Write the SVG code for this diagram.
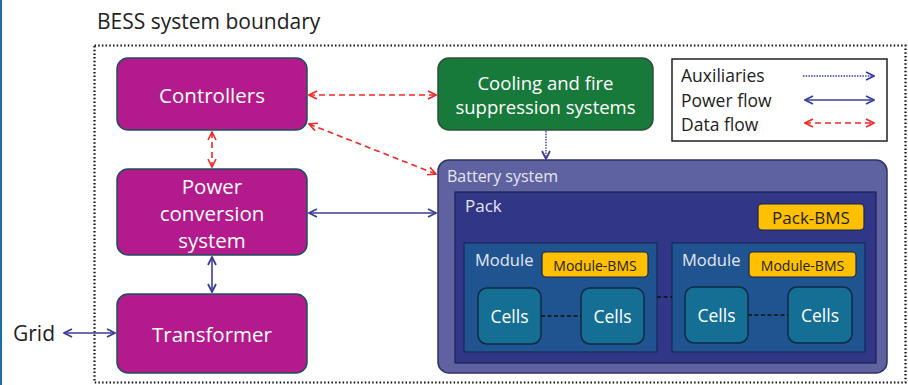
<svg xmlns="http://www.w3.org/2000/svg" width="908" height="385" viewBox="0 0 908 385">
<defs>
<style>
text{font-family:"Open Sans","Liberation Sans",sans-serif}
.mag{fill:#B31B8C;stroke:#1F4E5F;stroke-width:1.5}
.wt{fill:#fff;font-size:20.5px;text-anchor:middle;dominant-baseline:central}
.ct{fill:#fff;font-size:18.5px;text-anchor:middle;dominant-baseline:central}
.cl{fill:#fff;font-size:17.5px;text-anchor:middle;dominant-baseline:central}
.lt{fill:#E6E6F2;font-size:16px;dominant-baseline:central}
.cell{fill:#156F95;stroke:#0E2A44;stroke-width:1.5}
.bms{fill:#FFC000;stroke:#1B2450;stroke-width:1.2}
.bt{fill:#222;font-size:14px;text-anchor:middle;dominant-baseline:central}
.lg{fill:#222;font-size:17.5px;dominant-baseline:central}
.data{stroke:#F02828;stroke-width:1.6;fill:none;stroke-dasharray:6 4}
.pow{stroke:#3A3F96;stroke-width:1.6;fill:none}
.aux{stroke:#3A3F96;stroke-width:1.4;fill:none;stroke-dasharray:1.5 1.2}
.jn{stroke:#111;stroke-width:1.6;stroke-dasharray:4 2.5;fill:none}
</style>
<marker id="mr" viewBox="0 0 10 10" refX="9" refY="5" markerWidth="10" markerHeight="10" markerUnits="userSpaceOnUse" orient="auto-start-reverse"><path d="M1,1 L9,5 L1,9" fill="none" stroke="#F02828" stroke-width="1.6"/></marker>
<marker id="mb" viewBox="0 0 10 10" refX="9" refY="5" markerWidth="10" markerHeight="10" markerUnits="userSpaceOnUse" orient="auto-start-reverse"><path d="M1,1 L9,5 L1,9" fill="none" stroke="#3A3F96" stroke-width="1.8"/></marker>
</defs>
<rect x="0" y="0" width="908" height="385" fill="#fff"/>
<rect x="0" y="0" width="2" height="385" fill="#1C6FA6"/>
<text x="97" y="21" style="font-size:21px" fill="#222" dominant-baseline="central">BESS system boundary</text>
<rect x="94.5" y="45.5" width="811" height="337" fill="none" stroke="#111" stroke-width="2.2" stroke-dasharray="1.5 2.2"/>

<g id="controllers"><rect class="mag" x="117" y="58" width="190" height="72" rx="11"/><text class="wt" x="212" y="95">Controllers</text></g>
<g id="pcs"><rect class="mag" x="117" y="169" width="190" height="86" rx="11"/><text class="wt" x="212" y="186">Power</text><text class="wt" x="212" y="213">conversion</text><text class="wt" x="212" y="240">system</text></g>
<g id="transformer"><rect class="mag" x="117" y="294" width="190" height="79" rx="11"/><text class="wt" x="212" y="334">Transformer</text></g>
<g id="grid"><text x="13" y="333" style="font-size:21px" fill="#222" dominant-baseline="central">Grid</text></g>
<g id="cooling"><rect x="438" y="58" width="215" height="72" rx="11" fill="#17793A" stroke="#2F4F3A" stroke-width="1.5"/><text class="ct" x="545.5" y="82">Cooling and fire</text><text class="ct" x="545.5" y="106">suppression systems</text></g>
<g id="legend"><rect x="672" y="59" width="215" height="82" fill="#fff" stroke="#222" stroke-width="1.5"/>
<text class="lg" x="681" y="75">Auxiliaries</text>
<text class="lg" x="681" y="100">Power flow</text>
<text class="lg" x="681" y="124">Data flow</text>
<line class="aux" x1="803" y1="76" x2="874" y2="76" marker-end="url(#mb)"/>
<line class="pow" x1="805" y1="100" x2="874" y2="100" marker-start="url(#mb)" marker-end="url(#mb)"/>
<line class="data" x1="805" y1="123" x2="874" y2="123" marker-start="url(#mr)" marker-end="url(#mr)"/>
</g>
<g id="battery-system"><rect x="438" y="160" width="449" height="213" rx="11" fill="#5F62A0" stroke="#2E3366" stroke-width="1.5"/><text class="lt" x="447" y="176">Battery system</text></g>
<g id="pack"><rect x="455" y="192" width="421" height="171" fill="#323687" stroke="#1C2050" stroke-width="1.2"/><text class="lt" x="465" y="205" style="font-size:17px">Pack</text></g>
<g id="pack-bms"><rect class="bms" x="758" y="204" width="106" height="26" rx="4"/><text class="bt" x="811" y="217" style="font-size:17px">Pack-BMS</text></g>
<g id="module1"><rect x="464" y="243" width="193" height="109" fill="#1F5491" stroke="#152A55" stroke-width="1.2"/><text class="lt" x="475" y="259" style="font-size:16.5px">Module</text>
<rect class="bms" x="542" y="252" width="106" height="25" rx="4"/><text class="bt" x="595" y="265">Module-BMS</text>
<rect class="cell" x="478" y="288" width="63" height="56" rx="9"/><text class="cl" x="509.5" y="316">Cells</text>
<rect class="cell" x="581" y="288" width="63" height="56" rx="9"/><text class="cl" x="612.5" y="316">Cells</text></g>
<g id="module2"><rect x="672" y="243" width="193" height="109" fill="#1F5491" stroke="#152A55" stroke-width="1.2"/><text class="lt" x="682" y="259" style="font-size:16.5px">Module</text>
<rect class="bms" x="749" y="252" width="107" height="25" rx="4"/><text class="bt" x="802.5" y="265">Module-BMS</text>
<rect class="cell" x="685" y="287" width="63" height="56" rx="9"/><text class="cl" x="716.5" y="315">Cells</text>
<rect class="cell" x="788" y="287" width="64" height="56" rx="9"/><text class="cl" x="820" y="315">Cells</text></g>

<g id="connectors">
<line class="data" x1="309" y1="95" x2="436" y2="95" marker-start="url(#mr)" marker-end="url(#mr)"/>
<line class="data" x1="309" y1="124" x2="436" y2="174" marker-start="url(#mr)" marker-end="url(#mr)"/>
<line class="data" x1="212" y1="132" x2="212" y2="167" marker-start="url(#mr)" marker-end="url(#mr)"/>
<line class="pow" x1="309" y1="213" x2="436" y2="213" marker-start="url(#mb)" marker-end="url(#mb)"/>
<line class="pow" x1="212" y1="257" x2="212" y2="292" marker-start="url(#mb)" marker-end="url(#mb)"/>
<line class="pow" x1="64" y1="333" x2="115" y2="333" marker-start="url(#mb)" marker-end="url(#mb)"/>
<line class="aux" x1="546" y1="131" x2="546" y2="159" marker-end="url(#mb)"/>
<line class="jn" x1="541" y1="316" x2="581" y2="316"/>
<line class="jn" x1="748" y1="315" x2="788" y2="315"/>
<line class="jn" x1="657" y1="297" x2="672" y2="297"/>
</g>
</svg>
